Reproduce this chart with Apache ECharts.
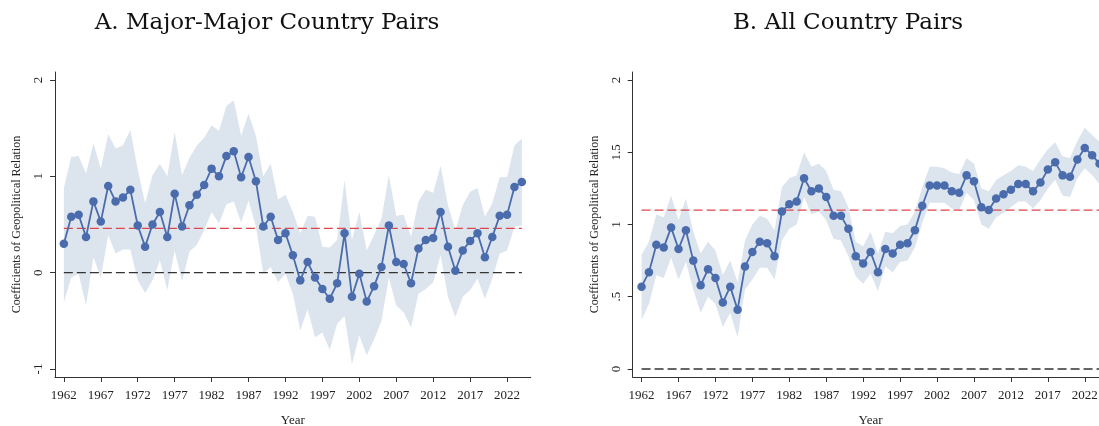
<!DOCTYPE html>
<html>
<head>
<meta charset="utf-8">
<script src="https://cdn.jsdelivr.net/npm/echarts@6/dist/echarts.min.js"></script>
<style>
html,body{margin:0;padding:0;background:#fff;}
#chart{width:1099px;height:426px;}
</style>
</head>
<body>
<div id="chart"></div>
<script>
// ---- data ----
const years = [];
for (let y = 1962; y <= 2024; y++) years.push(y);

const valuesA = [0.30,0.58,0.60,0.37,0.74,0.53,0.90,0.74,0.78,0.86,
  0.49,0.27,0.50,0.63,0.37,0.82,0.48,0.70,0.81,0.91,
  1.08,1.00,1.21,1.26,0.99,1.20,0.95,0.48,0.58,0.34,
  0.41,0.18,-0.08,0.11,-0.05,-0.17,-0.27,-0.11,0.41,-0.25,
  -0.01,-0.30,-0.14,0.06,0.49,0.11,0.09,-0.11,0.25,0.34,
  0.36,0.63,0.27,0.02,0.23,0.33,0.41,0.16,0.37,0.59,
  0.60,0.89,0.94];
const upperA = [0.88,1.20,1.21,1.03,1.34,1.08,1.44,1.29,1.32,1.48,
  1.07,0.72,1.01,1.13,1.00,1.46,1.01,1.19,1.32,1.40,
  1.53,1.47,1.73,1.79,1.42,1.65,1.42,1.00,1.13,0.76,
  0.81,0.63,0.41,0.59,0.58,0.27,0.26,0.34,0.96,0.34,
  0.63,0.23,0.39,0.56,1.01,0.59,0.60,0.37,0.74,0.86,
  0.83,1.11,0.70,0.44,0.70,0.84,0.88,0.58,0.72,0.99,
  0.99,1.32,1.39];
const lowerA = [-0.31,-0.05,-0.01,-0.34,0.16,-0.05,0.39,0.20,0.24,0.24,
  -0.08,-0.21,-0.08,0.13,-0.18,0.23,-0.09,0.22,0.29,0.44,
  0.63,0.51,0.71,0.74,0.52,0.75,0.48,-0.01,0.06,-0.10,
  -0.01,-0.22,-0.60,-0.38,-0.67,-0.62,-0.80,-0.53,-0.45,-0.95,
  -0.65,-0.86,-0.69,-0.50,-0.05,-0.34,-0.41,-0.57,-0.22,-0.17,
  -0.10,0.18,-0.25,-0.46,-0.25,-0.18,-0.06,-0.27,-0.06,0.20,
  0.23,0.48,0.49];
const meanA = 0.46;

const valuesB = [0.57,0.67,0.86,0.84,0.98,0.83,0.96,0.75,0.58,0.69,
  0.63,0.46,0.57,0.41,0.71,0.81,0.88,0.87,0.78,1.09,
  1.14,1.16,1.32,1.23,1.25,1.19,1.06,1.06,0.97,0.78,
  0.73,0.81,0.67,0.83,0.80,0.86,0.87,0.96,1.13,1.27,
  1.27,1.27,1.23,1.22,1.34,1.30,1.12,1.10,1.18,1.21,
  1.24,1.28,1.28,1.23,1.29,1.38,1.43,1.34,1.33,1.45,
  1.53,1.48,1.42];
const upperB = [0.79,0.88,1.07,1.05,1.20,1.03,1.18,0.95,0.80,0.88,
  0.82,0.65,0.75,0.60,0.89,1.00,1.06,1.04,0.96,1.26,
  1.32,1.34,1.50,1.40,1.42,1.37,1.24,1.23,1.12,0.88,
  0.85,0.95,0.80,0.95,0.94,0.99,1.00,1.09,1.26,1.40,
  1.40,1.39,1.36,1.35,1.46,1.42,1.25,1.23,1.31,1.34,
  1.37,1.41,1.40,1.37,1.45,1.52,1.57,1.47,1.46,1.58,
  1.67,1.62,1.57];
const lowerB = [0.34,0.45,0.65,0.63,0.77,0.62,0.74,0.55,0.39,0.50,
  0.45,0.29,0.39,0.22,0.55,0.62,0.70,0.70,0.62,0.89,
  0.97,1.00,1.19,1.07,1.09,1.03,0.90,0.89,0.78,0.64,
  0.59,0.66,0.54,0.71,0.67,0.74,0.75,0.84,1.01,1.15,
  1.15,1.15,1.11,1.10,1.22,1.17,1.00,0.97,1.05,1.08,
  1.12,1.16,1.16,1.11,1.17,1.25,1.31,1.20,1.19,1.32,
  1.39,1.34,1.28];
const meanB = 1.10;

const xTicks = [1962,1967,1972,1977,1982,1987,1992,1997,2002,2007,2012,2017,2022];
const yTicksA = [-1,0,1,2];
const yTicksB = [0,0.5,1,1.5,2];
const titleA = 'A. Major-Major Country Pairs';
const titleB = 'B. All Country Pairs';

// ---- style ----
const serif = '"Liberation Serif", "DejaVu Serif", serif';
const lineColor = '#4a6cad';
const bandColor = '#dce4ee';
const axisColor = '#333';

function bandSeries(idx, up, lo) {
  return {
    type: 'custom', xAxisIndex: idx, yAxisIndex: idx, silent: true, z: 1,
    data: [[years[0], lo[0]]],
    renderItem: function (params, api) {
      const pts = [];
      for (let i = 0; i < years.length; i++) pts.push(api.coord([years[i], up[i]]));
      for (let i = years.length - 1; i >= 0; i--) pts.push(api.coord([years[i], lo[i]]));
      return { type: 'polygon', shape: { points: pts }, style: { fill: bandColor, stroke: null } };
    }
  };
}
function refLine(idx, v, color) {
  return {
    type: 'line', xAxisIndex: idx, yAxisIndex: idx, silent: true, z: 2,
    symbol: 'none', data: [[years[0], v], [years[years.length - 1], v]],
    lineStyle: { color: color, width: 1.3, type: [9, 4] }
  };
}
function mainLine(idx, vals) {
  return {
    type: 'line', xAxisIndex: idx, yAxisIndex: idx, z: 3,
    data: years.map((y, i) => [y, vals[i]]),
    symbol: 'circle', symbolSize: 8.5,
    itemStyle: { color: lineColor },
    lineStyle: { color: lineColor, width: 1.8 }
  };
}
function xAxis(idx) {
  return {
    type: 'value', gridIndex: idx, min: 1960.8, max: 2025.2,
    name: 'Year', nameLocation: 'middle', nameGap: 37,
    nameTextStyle: { fontFamily: serif, fontSize: 13, color: '#222' },
    axisLine: { show: true, onZero: false, lineStyle: { color: axisColor, width: 1 } },
    axisTick: { show: true, customValues: xTicks, length: 5, lineStyle: { color: axisColor } },
    axisLabel: { customValues: xTicks, fontFamily: serif, fontSize: 13, color: '#222', margin: 12, formatter: v => String(v) },
    splitLine: { show: false }
  };
}
function yAxis(idx, min, max, ticks, fmt) {
  return {
    type: 'value', gridIndex: idx, min: min, max: max,
    name: 'Coefficients of Geopolitical Relation', nameLocation: 'middle', nameRotate: 90, nameGap: 32,
    nameTextStyle: { fontFamily: serif, fontSize: 12, color: '#222' },
    axisLine: { show: true, onZero: false, lineStyle: { color: axisColor, width: 1 } },
    axisTick: { show: true, customValues: ticks, length: 5, lineStyle: { color: axisColor } },
    axisLabel: { customValues: ticks, rotate: 90, fontFamily: serif, fontSize: 13, color: '#222', margin: 10, formatter: fmt },
    splitLine: { show: false }
  };
}

const chart = echarts.init(document.getElementById('chart'), null, { renderer: 'canvas' });
chart.setOption({
  animation: false,
  backgroundColor: '#fff',
  title: [
    { text: titleA, left: 262, top: 7, textAlign: 'center', textStyle: { fontFamily: '"DejaVu Serif", serif', fontSize: 23, fontWeight: 'normal', color: '#111' } },
    { text: titleB, left: 843, top: 7, textAlign: 'center', textStyle: { fontFamily: '"DejaVu Serif", serif', fontSize: 23, fontWeight: 'normal', color: '#111' } }
  ],
  grid: [
    { left: 55, top: 72, width: 475.7, height: 305, containLabel: false, outerBoundsMode: 'none' },
    { left: 632.7, top: 72, width: 475.7, height: 305, containLabel: false, outerBoundsMode: 'none' }
  ],
  xAxis: [xAxis(0), xAxis(1)],
  yAxis: [
    yAxis(0, -1.083, 2.083, yTicksA, v => String(v)),
    yAxis(1, -0.0554, 2.0554, yTicksB, v => (v > 0 && v < 1 ? String(v).replace('0.', '.') : String(v)))
  ],
  series: [
    bandSeries(0, upperA, lowerA),
    refLine(0, 0, '#333'),
    refLine(0, meanA, '#e0474c'),
    mainLine(0, valuesA),
    bandSeries(1, upperB, lowerB),
    refLine(1, 0, '#333'),
    refLine(1, meanB, '#e0474c'),
    mainLine(1, valuesB)
  ]
});
</script>
</body>
</html>
